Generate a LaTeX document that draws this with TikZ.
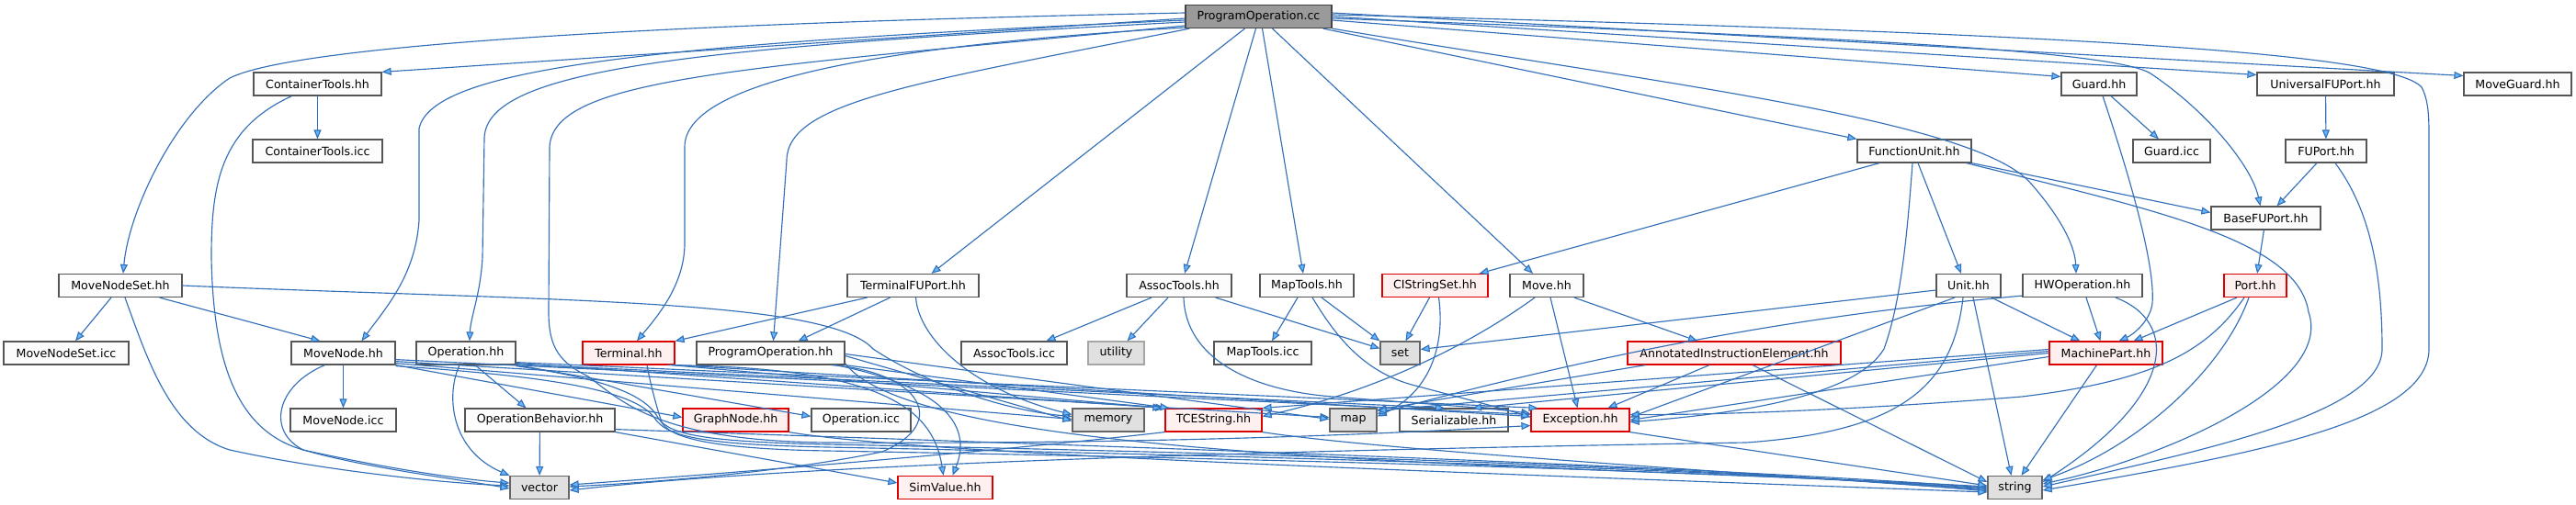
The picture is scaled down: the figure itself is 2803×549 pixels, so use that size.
\documentclass[tikz,border=0pt]{standalone}
\usepackage{fontspec}
\setmainfont{DejaVu Sans}
\usetikzlibrary{arrows.meta}
\definecolor{edgecol}{HTML}{3470B8}
\definecolor{arrowfill}{HTML}{63B8FF}
\definecolor{boxfill}{HTML}{FBFCFB}
\definecolor{boxdraw}{HTML}{555555}
\definecolor{redfill}{HTML}{FFF0F0}
\definecolor{reddraw}{HTML}{DD0000}
\definecolor{grayfill}{HTML}{E0E0E0}
\definecolor{graydraw}{HTML}{666666}
\definecolor{rootfill}{HTML}{9A9A9A}
\definecolor{rootdraw}{HTML}{444444}
\tikzset{
  box/.style={draw=boxdraw, fill=boxfill, line width=1.2pt, minimum height=25pt, inner sep=0pt, font=\fontsize{12.6}{14}\selectfont},
  redbox/.style={box, draw=reddraw, fill=redfill},
  graybox/.style={box, draw=graydraw, fill=grayfill},
  rootbox/.style={box, draw=rootdraw, fill=rootfill},
  edge/.style={draw=edgecol, line width=1.15pt, -{Triangle[length=10pt,width=8pt,fill=arrowfill]}}
}
\begin{document}
\begin{tikzpicture}[x=1pt,y=-1pt]
\useasboundingbox (0,0) rectangle (2803,549);
% row 1
\node[rootbox, minimum width=159pt] (root) at (1369.5,18) {ProgramOperation.cc};
% row 2
\node[box, minimum width=139pt] (cth) at (345.5,91.5) {ContainerTools.hh};
\node[box, minimum width=82pt] (guard) at (2284,91.5) {Guard.hh};
\node[box, minimum width=149pt] (ufu) at (2530.5,91.5) {UniversalFUPort.hh};
\node[box, minimum width=117pt] (mguard) at (2739.5,91.5) {MoveGuard.hh};
% row 3
\node[box, minimum width=141pt] (cticc) at (345.5,164.5) {ContainerTools.icc};
\node[box, minimum width=124pt] (fu) at (2083,164.5) {FunctionUnit.hh};
\node[box, minimum width=84pt] (guardicc) at (2363,164.5) {Guard.icc};
\node[box, minimum width=88pt] (fuport) at (2531,164.5) {FUPort.hh};
% row 4
\node[box, minimum width=119pt] (bfu) at (2465.5,237.5) {BaseFUPort.hh};
% row 5
\node[box, minimum width=134pt] (mns) at (131,311) {MoveNodeSet.hh};
\node[box, minimum width=143pt] (tfu) at (993.5,311) {TerminalFUPort.hh};
\node[box, minimum width=114pt] (at) at (1283,311) {AssocTools.hh};
\node[box, minimum width=102pt] (mt) at (1422,311) {MapTools.hh};
\node[redbox, minimum width=115pt] (cis) at (1561.5,311) {CIStringSet.hh};
\node[box, minimum width=80pt] (move) at (1683,311) {Move.hh};
\node[box, minimum width=70pt] (unit) at (2142,311) {Unit.hh};
\node[box, minimum width=130pt] (hwop) at (2266,311) {HWOperation.hh};
\node[redbox, minimum width=68pt] (port) at (2454,311) {Port.hh};
% row 6
\node[box, minimum width=136pt] (mnsicc) at (72,384.5) {MoveNodeSet.icc};
\node[box, minimum width=113pt] (mn) at (373.5,384.5) {MoveNode.hh};
\node[box, minimum width=108pt] (op) at (507,384.5) {Operation.hh};
\node[redbox, minimum width=100pt] (term) at (684,384.5) {Terminal.hh};
\node[box, minimum width=161pt] (poh) at (838.5,384.5) {ProgramOperation.hh};
\node[box, minimum width=115pt] (aticc) at (1103.5,384.5) {AssocTools.icc};
\node[graybox, draw=gray!70, minimum width=61pt] (utility) at (1214.5,384.5) {utility};
\node[box, minimum width=106pt] (mticc) at (1374,384.5) {MapTools.icc};
\node[graybox, minimum width=43pt] (set) at (1523.5,384.5) {set};
\node[redbox, minimum width=232pt] (aie) at (1887,384.5) {AnnotatedInstructionElement.hh};
\node[redbox, minimum width=123pt] (mp) at (2291.5,384.5) {MachinePart.hh};
% row 7
\node[box, minimum width=115pt] (mnicc) at (373.5,457.5) {MoveNode.icc};
\node[box, minimum width=163pt] (ob) at (587.5,457.5) {OperationBehavior.hh};
\node[redbox, minimum width=115pt] (gn) at (800.5,457.5) {GraphNode.hh};
\node[box, minimum width=108pt] (opicc) at (937,457.5) {Operation.icc};
\node[graybox, minimum width=78pt] (memory) at (1206,457.5) {memory};
\node[redbox, minimum width=105pt] (tces) at (1320.5,457.5) {TCEString.hh};
\node[graybox, minimum width=51pt] (map) at (1472.5,457.5) {map};
\node[box, minimum width=118pt] (ser) at (1582,457.5) {Serializable.hh};
\node[redbox, minimum width=107pt] (exc) at (1719.5,457.5) {Exception.hh};
% row 8
\node[graybox, minimum width=64pt] (vector) at (587,531) {vector};
\node[redbox, minimum width=103pt] (simv) at (1028.5,531) {SimValue.hh};
\node[graybox, minimum width=59pt] (string) at (2192.5,531) {string};

% ---- edges from root
\draw[edge] ([yshift=-2pt]root.west) -- (cth.north east);
\draw[edge] ([yshift=4pt]root.west) .. controls (700,26) and (320,50) .. (250,85) .. controls (190,125) and (140,230) .. ([xshift=3pt]mns.north);
\draw[edge] ([yshift=-4pt]root.west) .. controls (700,48) and (470,75) .. (456,140) -- (456,240) .. controls (452,300) and (420,335) .. ([xshift=20pt]mn.north);
\draw[edge] ([yshift=-6pt]root.west) .. controls (750,52) and (530,75) .. (527,150) -- (525,280) .. controls (523,320) and (512,345) .. ([xshift=4pt]op.north);
\draw[edge] ([yshift=-10pt]root.west) .. controls (800,75) and (602,85) .. (598,160) -- (597,340) .. controls (597,380) and (610,395) .. (640,410) .. controls (680,440) and (720,480) .. (900,482) .. controls (1300,484) and (1550,470) .. ([yshift=-6pt]exc.west);
\draw[edge] ([yshift=-12pt]root.west) .. controls (950,50) and (745,90) .. (745,160) -- (745,265) .. controls (745,310) and (715,345) .. ([xshift=9pt]term.north);
\draw[edge] ([xshift=5pt]root.south west) .. controls (1000,90) and (856,110) .. (856,175) -- ([xshift=3pt]poh.north);
\draw[edge] ([xshift=-15pt]root.south) -- ([xshift=20pt]tfu.north);
\draw[edge] ([xshift=-3pt]root.south) -- ([xshift=6pt]at.north);
\draw[edge] ([xshift=4pt]root.south) -- ([xshift=-4pt]mt.north);
\draw[edge] ([xshift=15pt]root.south) -- ([xshift=-15pt]move.north);
\draw[edge] ([xshift=-10pt]root.south east) -- (fu.north west);
\draw[edge] (root.south east) .. controls (1800,90) and (2150,130) .. (2210,200) .. controls (2245,240) and (2258,270) .. ([xshift=-7pt]hwop.north);
\draw[edge] ([yshift=-4pt]root.east) -- ([yshift=8pt]guard.west);
\draw[edge] ([yshift=-2pt]root.east) .. controls (2000,40) and (2300,55) .. (2340,80) .. controls (2400,120) and (2450,180) .. ([xshift=-6pt]bfu.north);
\draw[edge] (root.east) -- ([yshift=10pt]ufu.west);
\draw[edge] ([yshift=2pt]root.east) .. controls (2200,35) and (2600,55) .. (2635,95) .. controls (2643,110) and (2643,130) .. (2643,150) -- (2643,380) .. controls (2643,460) and (2450,495) .. ([yshift=-3pt]string.east);
\draw[edge] ([yshift=4pt]root.east) -- ([yshift=9pt]mguard.west);

% ---- ContainerTools
\draw[edge] (cth) -- (cticc);
\draw[edge] ([xshift=-28pt]cth.south) .. controls (240,140) and (230,200) .. (230,280) .. controls (232,400) and (260,470) .. (330,490) .. controls (420,510) and (500,522) .. ([yshift=5pt]vector.west);
% ---- MoveNodeSet
\draw[edge] ([xshift=-10pt]mns.south) -- ([xshift=10pt]mnsicc.north);
\draw[edge] ([xshift=-25pt]mns.south east) -- ([xshift=-25pt]mn.north);
\draw[edge] ([xshift=5pt]mns.south) .. controls (160,390) and (185,470) .. (250,490) .. controls (350,512) and (480,526) .. ([yshift=2pt]vector.west);
\draw[edge] (mns.east) .. controls (600,328) and (900,325) .. (950,380) .. controls (1010,420) and (1100,448) .. ([yshift=4pt]memory.west);
% ---- MoveNode
\draw[edge] (mn) -- (mnicc);
\draw[edge] ([xshift=-20pt]mn.south) .. controls (300,420) and (290,470) .. (330,490) .. controls (400,510) and (500,522) .. ([yshift=-1pt]vector.west);
\draw[edge] (mn.south east) -- ([yshift=3pt]gn.west);
\draw[edge] ([yshift=2pt]mn.south east) -- ([yshift=1pt]memory.west);
\draw[edge] ([yshift=4pt]mn.south east) -- ([yshift=3pt]map.west);
\draw[edge] ([yshift=6pt]mn.south east) -- ([yshift=6pt]exc.west);
\draw[edge] ([yshift=-1pt]mn.south east) .. controls (600,410) and (690,425) .. (712,455) .. controls (725,475) and (760,484) .. (900,487) .. controls (1400,497) and (1900,512) .. ([yshift=-2pt]string.west);
% ---- Operation
\draw[edge] ([xshift=10pt]op.south) -- ([xshift=-15pt]ob.north);
\draw[edge] ([xshift=-7pt]op.south) .. controls (485,430) and (490,490) .. (vector.north west);
\draw[edge] (op.south east) -- ([yshift=4pt]opicc.west);
\draw[edge] ([yshift=1pt]op.south east) -- ([xshift=-10pt]ser.north);
\draw[edge] ([yshift=2pt]op.south east) -- (tces.north west);
\draw[edge] ([yshift=3pt]op.south east) -- ([xshift=8pt]exc.north west);
\draw[edge] ([yshift=-1pt]op.south east) .. controls (640,410) and (700,425) .. (716,455) .. controls (728,474) and (770,481) .. (900,484) .. controls (1400,494) and (1900,510) .. ([yshift=-4pt]string.west);
% ---- OperationBehavior
\draw[edge] (ob) -- (vector);
\draw[edge] (ob.south east) -- ([yshift=5pt]simv.west);
\draw[edge] ([yshift=3pt]ob.south east) .. controls (1200,486) and (1800,505) .. (string.west);
% ---- Terminal
\draw[edge] (term.south east) -- ([yshift=4pt]exc.west);
\draw[edge] ([xshift=-4pt]term.south east) -- ([xshift=-3pt]tces.north west);
\draw[edge] ([xshift=-8pt]term.south east) .. controls (950,400) and (1015,440) .. ([xshift=-2pt]simv.north);
\draw[edge] ([xshift=20pt]term.south) .. controls (708,420) and (715,445) .. (720,460) .. controls (730,478) and (780,489) .. (900,491) .. controls (1400,500) and (1900,514) .. ([yshift=-1pt]string.west);
% ---- TerminalFUPort
\draw[edge] ([xshift=-50pt]tfu.south) -- (term.north east);
\draw[edge] ([xshift=-25pt]tfu.south) -- ([xshift=30pt]poh.north);
\draw[edge] ([xshift=3pt]tfu.south) .. controls (1000,370) and (1060,425) .. ([yshift=6pt]memory.west);
% ---- ProgramOperation.hh
\draw[edge] ([xshift=-10pt]poh.south east) .. controls (1020,420) and (1060,460) .. ([xshift=8pt]simv.north);
\draw[edge] ([xshift=-15pt]poh.south east) .. controls (1000,405) and (1035,460) .. (960,492) .. controls (850,515) and (700,526) .. ([yshift=1pt]vector.east);
\draw[edge] ([yshift=-3pt]poh.east) -- ([yshift=-1pt]memory.west);
\draw[edge] ([yshift=-1pt]poh.east) -- ([yshift=1pt]map.west);
\draw[edge] (poh.south east) -- ([xshift=5pt]tces.north west);
\draw[edge] ([yshift=2pt]poh.south east) .. controls (1000,505) and (1700,505) .. ([yshift=1pt]string.west);
% ---- AssocTools
\draw[edge] ([xshift=-30pt]at.south) -- ([xshift=35pt]aticc.north);
\draw[edge] ([xshift=-12pt]at.south) -- ([xshift=12pt]utility.north);
\draw[edge] ([xshift=-18pt]at.south east) -- ([yshift=5pt]set.west);
\draw[edge] ([xshift=5pt]at.south) .. controls (1290,390) and (1360,425) .. (1450,432) .. controls (1550,440) and (1620,444) .. ([yshift=7pt]exc.west);
% ---- MapTools
\draw[edge] ([xshift=-10pt]mt.south) -- ([xshift=10pt]mticc.north);
\draw[edge] ([xshift=16pt]mt.south) -- (set.north west);
\draw[edge] ([xshift=6pt]mt.south) .. controls (1450,360) and (1480,405) .. (1540,420) .. controls (1600,436) and (1640,446) .. ([yshift=3pt]exc.west);
% ---- CIStringSet
\draw[edge] ([xshift=-6pt]cis.south) -- ([xshift=6pt]set.north);
\draw[edge] ([xshift=4pt]cis.south) .. controls (1572,370) and (1560,425) .. ([yshift=4pt]map.east);
% ---- Move
\draw[edge] ([xshift=4pt]move.south) -- ([xshift=-3pt]exc.north);
\draw[edge] ([xshift=30pt]move.south) -- ([xshift=-40pt]aie.north);
\draw[edge] ([xshift=-13pt]move.south) .. controls (1600,375) and (1500,425) .. ([yshift=4pt]tces.east);
% ---- AnnotatedInstructionElement
\draw[edge] ([xshift=-27pt]aie.south) -- ([xshift=30pt]exc.north);
\draw[edge] ([xshift=20pt]aie.south west) -- ([yshift=-2pt]map.north east);
\draw[edge] ([xshift=20pt]aie.south) -- ([yshift=6pt]string.west);
% ---- FunctionUnit
\draw[edge] ([xshift=-38pt]fu.south) -- ([xshift=-10pt]cis.north east);
\draw[edge] ([xshift=4pt]fu.south) -- ([xshift=-8pt]unit.north);
\draw[edge] (fu.south east) -- ([yshift=6pt]bfu.west);
\draw[edge] ([xshift=-6pt]fu.south east) .. controls (2350,230) and (2500,262) .. (2512,340) .. controls (2540,420) and (2350,500) .. ([yshift=4pt]string.east);
\draw[edge] ([xshift=-2pt]fu.south) .. controls (2075,260) and (2068,330) .. (2050,380) .. controls (2020,430) and (1900,450) .. ([yshift=-2pt]exc.east);
% ---- Unit
\draw[edge] ([xshift=25pt]unit.south) -- ([xshift=-28pt]mp.north);
\draw[edge] ([xshift=5pt]unit.south) -- ([xshift=-4pt]string.north);
\draw[edge] ([yshift=-5pt]unit.west) -- ([yshift=4pt]set.east);
\draw[edge] ([xshift=-15pt]unit.south) -- ([yshift=3pt]exc.east);
\draw[edge] ([xshift=-6pt]unit.south) .. controls (2125,420) and (2070,470) .. (1900,482) .. controls (1300,492) and (850,508) .. ([yshift=-3pt]vector.east);
% ---- HWOperation
\draw[edge] ([xshift=4pt]hwop.south) -- ([xshift=-6pt]mp.north);
\draw[edge] ([xshift=36pt]hwop.south) .. controls (2370,350) and (2370,430) .. ([yshift=6pt]string.east);
\draw[edge] ([yshift=2pt]hwop.south west) .. controls (2000,340) and (1800,370) .. ([yshift=7pt]map.east);
% ---- Port
\draw[edge] ([xshift=-20pt]port.south) -- ([xshift=30pt]mp.north);
\draw[edge] ([xshift=-7pt]port.south) .. controls (2420,400) and (2330,485) .. ([yshift=8pt]string.east);
\draw[edge] ([xshift=-12pt]port.south) .. controls (2400,385) and (2340,415) .. (2200,432) .. controls (2000,448) and (1850,452) .. ([yshift=6pt]exc.east);
% ---- MachinePart
\draw[edge] ([xshift=-10pt]mp.south) -- ([xshift=7pt]string.north);
\draw[edge] ([yshift=-4pt]mp.west) -- (exc.east);
\draw[edge] (mp.west) -- ([xshift=20pt]ser.north);
\draw[edge] ([yshift=2pt]mp.west) -- ([yshift=-3pt]map.north east);
\draw[edge] ([yshift=4pt]mp.west) -- (tces.north east);
% ---- ports and guards
\draw[edge] (bfu) -- (port);
\draw[edge] ([xshift=-10pt]fuport.south) -- ([xshift=12pt]bfu.north);
\draw[edge] ([xshift=10pt]fuport.south) .. controls (2580,230) and (2592,300) .. (2592,380) .. controls (2592,450) and (2400,490) .. ([yshift=1pt]string.east);
\draw[edge] (ufu) -- (fuport);
\draw[edge] ([xshift=13pt]guard.south) -- ([xshift=-14pt]guardicc.north);
\draw[edge] ([xshift=4pt]guard.south) .. controls (2320,200) and (2345,290) .. (2342,330) .. controls (2340,350) and (2320,365) .. ([xshift=14pt]mp.north);
% ---- leaves
\draw[edge] (tces.south east) .. controls (1500,490) and (1900,515) .. ([yshift=-3pt]string.west);
\draw[edge] (tces.south west) .. controls (1100,490) and (800,515) .. ([yshift=3pt]vector.east);
\draw[edge] (exc.south east) -- ([yshift=2pt]string.west);
\draw[edge] (gn.south east) .. controls (1000,495) and (1600,515) .. ([yshift=-5pt]string.west);
\end{tikzpicture}
\end{document}
